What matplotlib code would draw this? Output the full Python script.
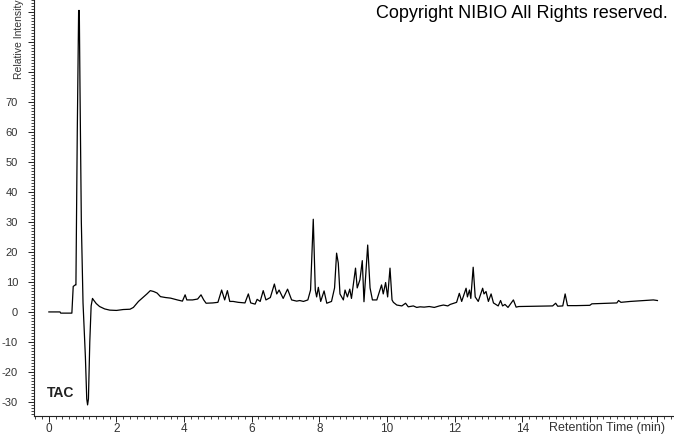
import matplotlib
matplotlib.use("Agg")
import matplotlib.pyplot as plt
from matplotlib.ticker import MultipleLocator, FuncFormatter

plt.rcParams['font.family'] = ['Liberation Sans', 'DejaVu Sans']

# Retention time (min) and relative intensity
time_min = [
    0.00, 0.33, 0.35, 0.68, 0.70, 0.72, 0.78, 0.80, 0.84, 0.88, 0.90, 0.92, 0.96,
    1.01, 1.08, 1.12, 1.145, 1.17, 1.21, 1.25, 1.29, 1.32, 1.40, 1.50, 1.65, 1.80,
    2.00, 2.20, 2.40, 2.50, 2.65, 2.80, 2.90, 3.00, 3.10, 3.20, 3.30, 3.45, 3.60,
    3.80, 3.95, 4.03, 4.08, 4.25, 4.40, 4.50, 4.58, 4.65, 4.85, 5.00, 5.11, 5.20,
    5.28, 5.35, 5.45, 5.60, 5.80, 5.90, 5.97, 6.10, 6.16, 6.25, 6.34, 6.42, 6.55,
    6.67, 6.74, 6.81, 6.93, 7.06, 7.18, 7.33, 7.42, 7.53, 7.66, 7.74, 7.82, 7.88,
    7.92, 7.97, 8.04, 8.14, 8.22, 8.36, 8.45, 8.51, 8.56, 8.61, 8.71, 8.76, 8.83,
    8.90, 8.95, 9.07, 9.12, 9.20, 9.27, 9.32, 9.43, 9.50, 9.57, 9.70, 9.84, 9.89,
    9.96, 10.02, 10.09, 10.15, 10.19, 10.29, 10.44, 10.55, 10.63, 10.78, 10.88,
    10.98, 11.10, 11.25, 11.40, 11.55, 11.67, 11.80, 11.87, 12.00, 12.06, 12.14,
    12.21, 12.34, 12.38, 12.44, 12.48, 12.55, 12.61, 12.70, 12.83, 12.87, 12.93,
    13.00, 13.08, 13.15, 13.29, 13.36, 13.42, 13.49, 13.58, 13.74, 13.82, 13.90,
    14.50, 14.90, 14.99, 15.05, 15.20, 15.27, 15.34, 15.60, 16.00, 16.06, 16.60,
    16.80, 16.85, 16.92, 17.20, 17.60, 17.88, 18.00,
]
intensity = [
    0.0, 0.0, -0.4, -0.4, 4.0, 8.5, 9.0, 9.0, 60.0, 100.5, 100.5, 75.0, 30.0,
    3.0, -15.0, -29.0, -31.0, -29.0, -10.0, 2.0, 4.5, 4.0, 2.8, 1.8, 1.0, 0.6,
    0.5, 0.8, 0.9, 1.5, 3.5, 5.0, 6.0, 7.1, 6.8, 6.3, 5.1, 4.8, 4.6,
    4.0, 3.6, 5.7, 4.0, 4.0, 4.3, 5.7, 4.0, 2.9, 3.0, 3.2, 7.3, 4.0,
    7.1, 3.5, 3.5, 3.2, 3.0, 6.0, 3.0, 2.6, 4.2, 3.5, 7.1, 4.0, 4.8,
    9.3, 6.0, 7.3, 4.5, 7.6, 4.0, 3.6, 3.8, 3.5, 4.0, 7.3, 30.9, 7.3,
    5.0, 8.2, 3.5, 7.0, 2.9, 3.5, 8.0, 19.6, 16.3, 6.0, 4.0, 7.3, 5.0,
    7.6, 4.5, 14.6, 8.0, 10.7, 17.1, 3.4, 22.3, 8.0, 4.0, 4.0, 9.0, 6.0,
    9.8, 5.0, 14.6, 4.0, 3.2, 2.3, 2.0, 2.9, 1.7, 2.0, 1.5,
    1.7, 1.6, 1.8, 1.5, 2.0, 2.3, 2.0, 2.5, 3.0, 3.2, 6.2,
    3.5, 7.9, 5.0, 7.3, 4.5, 14.9, 5.0, 3.5, 7.9, 6.0, 6.8,
    3.5, 6.0, 3.0, 2.0, 3.8, 2.0, 2.5, 1.5, 4.0, 1.6, 1.8,
    1.9, 2.0, 2.9, 1.9, 2.0, 6.0, 2.1, 2.1, 2.2, 2.7, 2.9,
    3.0, 3.8, 3.2, 3.5, 3.8, 4.0, 3.8,
]

x_tick_values = [0, 2, 4, 6, 8, 10, 12, 14]
y_tick_values = [-30, -20, -10, 0, 10, 20, 30, 40, 50, 60, 70]

W, H = 674, 434
fig = plt.figure(figsize=(W / 100, H / 100), dpi=100)
ax = fig.add_axes([34 / W, 18.3 / H, (W - 34) / W, 1 - 18.3 / H])

ax.plot(time_min, intensity, color='black', linewidth=0.9)

ax.set_xlim(-0.44, 18.49)
ax.set_ylim(-34.6, 104)

for s in ('top', 'right'):
    ax.spines[s].set_visible(False)
for s in ('left', 'bottom'):
    ax.spines[s].set_color('#222222')
    ax.spines[s].set_linewidth(0.8)

ax.xaxis.set_major_locator(MultipleLocator(2))
ax.xaxis.set_minor_locator(MultipleLocator(0.2))
ax.xaxis.set_major_formatter(FuncFormatter(
    lambda v, p: f"{int(round(v))}" if int(round(v)) in x_tick_values else ""))
ax.yaxis.set_major_locator(MultipleLocator(10))
ax.yaxis.set_minor_locator(MultipleLocator(1))
ax.yaxis.set_major_formatter(FuncFormatter(
    lambda v, p: f"{int(round(v))}" if int(round(v)) in y_tick_values else ""))

ax.tick_params(axis='y', which='major', length=4.3, width=0.7, pad=7.2,
               labelsize=8, labelcolor='#333333', color='#222222')
ax.tick_params(axis='y', which='minor', length=2.2, width=0.6, color='#222222')
ax.tick_params(axis='x', which='major', length=4.0, width=0.7, pad=1.2,
               labelsize=8.5, labelcolor='#333333', color='#222222')
ax.tick_params(axis='x', which='minor', length=2.2, width=0.6, color='#222222')

fig.text(19 / W, 1 - 79 / H, "Relative Intensity", rotation=90, ha='center',
         va='bottom', fontsize=7.5, color='#333333')
fig.text(665 / W, 1 - 427.5 / H, "Retention Time (min)", ha='right',
         va='center', fontsize=9, color='#333333')
fig.text(47 / W, 1 - 393 / H, "TAC", ha='left', va='center', fontsize=10,
         fontweight='bold', color='#222222')
fig.text(668 / W, 1 - 14 / H, "Copyright NIBIO All Rights reserved.",
         ha='right', va='center', fontsize=13, color='black')

fig.savefig("out.png", dpi=100)
